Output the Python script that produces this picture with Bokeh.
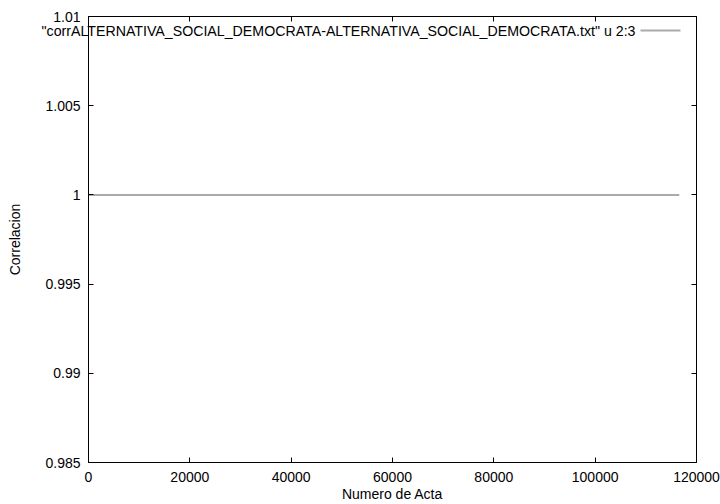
from bokeh.plotting import figure
from bokeh.models import Range1d, LinearAxis, FixedTicker, Title, BoxAnnotation
from bokeh.embed import file_html
from bokeh.resources import INLINE

# Data
acta = [0, 116600]
corr = [1.0, 1.0]
x_ticks = [0, 20000, 40000, 60000, 80000, 100000, 120000]
x_tick_labels = ["0", "20000", "40000", "60000", "80000", "100000", "120000"]
y_ticks = [0.985, 0.99, 0.995, 1.0, 1.005, 1.01]
y_tick_labels = ["0.985", "0.99", "0.995", "1", "1.005", "1.01"]
series_label = '"corrALTERNATIVA_SOCIAL_DEMOCRATA-ALTERNATIVA_SOCIAL_DEMOCRATA.txt" u 2:3'
x_title = "Numero de Acta"
y_title = "Correlacion"

FONT = "Liberation Sans"
FS = "14px"
LINE_COLOR = "#aaaaaa"

p = figure(width=720, height=504, output_backend="svg", toolbar_location=None,
           x_range=Range1d(0, 120000), y_range=Range1d(0.985, 1.01),
           min_border_left=88, min_border_right=24, min_border_top=16, min_border_bottom=42,
           x_axis_label=x_title, y_axis_label=y_title)
p.grid.visible = False
p.outline_line_color = "black"
p.outline_line_width = 1
p.outline_line_alpha = 1.0
p.background_fill_color = "white"
p.border_fill_color = "white"

def style_axis(ax, ticks, labels, show_labels):
    ax.ticker = FixedTicker(ticks=ticks)
    ax.major_tick_in = 5
    ax.major_tick_out = 0
    ax.major_tick_line_color = "black"
    ax.minor_tick_line_color = None
    ax.axis_line_color = "black"
    ax.major_label_text_font = FONT
    ax.axis_label_text_font = FONT
    ax.axis_label_text_font_style = "normal"
    ax.axis_label_text_font_size = FS
    ax.axis_label_text_color = "black"
    ax.major_label_text_color = "black"
    if show_labels:
        ax.major_label_overrides = {t: l for t, l in zip(ticks, labels)}
        ax.major_label_text_font_size = FS
    else:
        ax.major_label_overrides = {t: "" for t in ticks}
        ax.major_label_text_font_size = "0px"
        ax.major_label_standoff = 0

xa = p.xaxis[0]
style_axis(xa, x_ticks, x_tick_labels, True)
xa.major_label_standoff = 9
xa.axis_label_standoff = 1

ya = p.yaxis[0]
style_axis(ya, y_ticks, y_tick_labels, True)
ya.major_label_standoff = 8
ya.axis_label_standoff = 19

top = LinearAxis()
style_axis(top, x_ticks, x_tick_labels, False)
p.add_layout(top, "above")
right = LinearAxis()
style_axis(right, y_ticks, y_tick_labels, False)
p.add_layout(right, "right")

p.line(acta, corr, line_color=LINE_COLOR, line_width=2)

# key (text then sample line, gnuplot style); text may extend past the frame
key = Title(text=series_label, align="right", offset=61, standoff=-44,
            text_font=FONT, text_font_size="14.2px", text_font_style="normal", text_color="black")
p.add_layout(key, "above")
p.add_layout(BoxAnnotation(left=552, right=592, top=433, bottom=431,
                           left_units="screen", right_units="screen",
                           top_units="screen", bottom_units="screen",
                           fill_color=LINE_COLOR, fill_alpha=1, line_color=None))

open("out.html", "w").write(file_html(p, INLINE))
